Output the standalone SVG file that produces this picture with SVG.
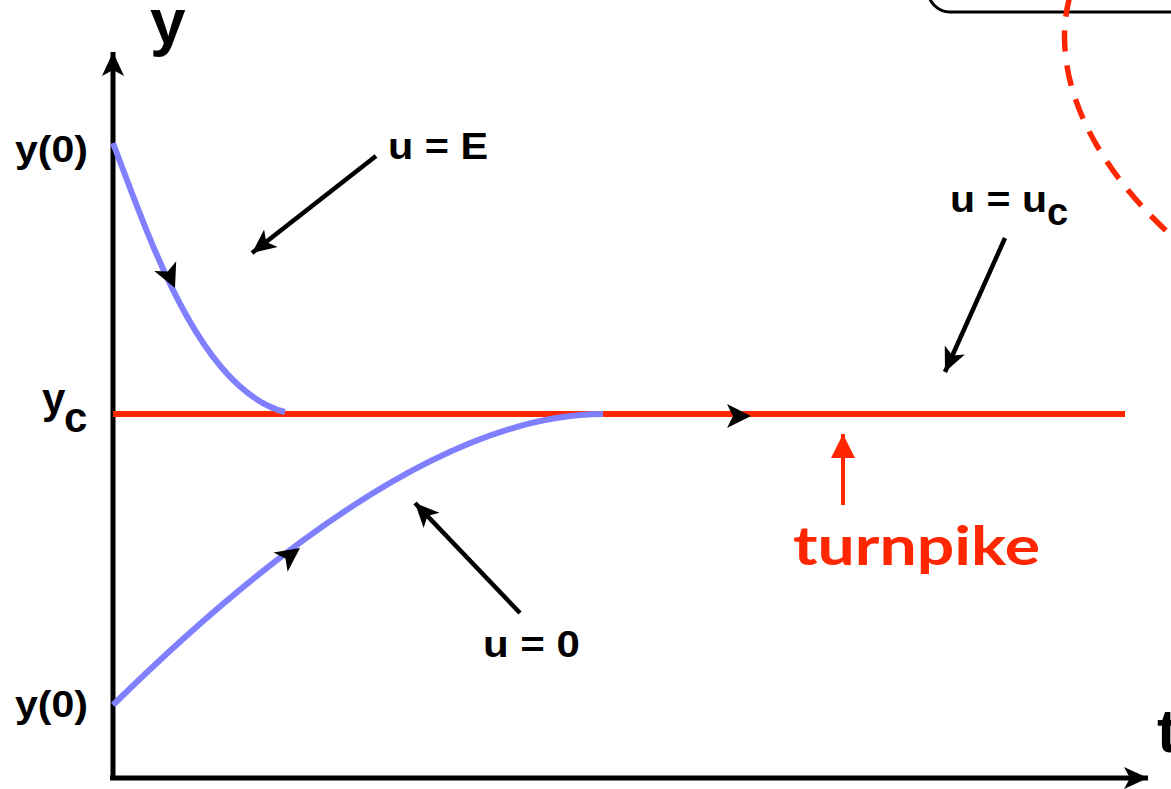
<svg xmlns="http://www.w3.org/2000/svg" width="1171" height="789" viewBox="0 0 1171 789">
<style>
.ax{stroke:#000;stroke-width:5;fill:none}
.lbl{stroke:#000;stroke-width:4.5;fill:none}
.blue{stroke:#8080ff;stroke-width:6;fill:none;stroke-linecap:butt}
.red{stroke:#ff2600;stroke-width:6;fill:none}
.t{font-family:"Liberation Sans",Arial,sans-serif;font-weight:bold;fill:#000}
.tp{font-family:"Comic Sans MS","Lato","Noto Sans",sans-serif;font-weight:bold;fill:#ff2600}
</style>
<defs>
<marker id="mk" markerUnits="userSpaceOnUse" markerWidth="26" markerHeight="24" refX="24" refY="12" orient="auto" viewBox="0 0 26 24">
<path d="M0,1 L24,12 L0,23 L6,12 Z" fill="#000"/>
</marker>
<marker id="mkr" markerUnits="userSpaceOnUse" markerWidth="26" markerHeight="26" refX="24" refY="12" orient="auto" viewBox="0 0 26 24">
<path d="M0,0 L24,12 L0,24 Z" fill="#ff2600"/>
</marker>
<path id="ah" d="M0,0 L-24,-12 L-18,0 L-24,12 Z" fill="#000"/>
</defs>
<rect x="0" y="0" width="1171" height="789" fill="#fff"/>

<g id="frame">
<rect x="928" y="-40" width="300" height="52" rx="22" ry="22" fill="none" stroke="#000" stroke-width="3"/>
<path d="M1070,-4 C1052,60 1076,150 1176,240" fill="none" stroke="#ff2600" stroke-width="5.5" stroke-dasharray="21,14"/>
</g>

<g id="axes">
<line class="ax" x1="113" y1="780" x2="113" y2="52" marker-end="url(#mk)"/>
<line class="ax" x1="110" y1="778" x2="1148" y2="778" marker-end="url(#mk)"/>
<text class="t" x="150" y="44" font-size="64">y</text>
<text class="t" x="1157" y="752" font-size="62">t</text>
<text class="t" x="15" y="162" font-size="36" textLength="73" lengthAdjust="spacingAndGlyphs">y(0)</text>
<text class="t" x="15" y="717" font-size="36" textLength="73" lengthAdjust="spacingAndGlyphs">y(0)</text>
<text class="t" x="42" y="413" font-size="42">y</text>
<text class="t" x="64" y="432" font-size="42">c</text>
</g>

<g id="turnpike-line">
<line class="red" x1="113" y1="414" x2="1125" y2="414"/>
<use href="#ah" transform="translate(751,416)"/>
</g>

<g id="curve-E">
<path class="blue" d="M113,143 C150,240 200,390 285,412"/>
<use href="#ah" transform="translate(175,288) rotate(66)"/>
</g>

<g id="curve-0">
<path class="blue" d="M113,705 C230,590 430,414 603,414"/>
<use href="#ah" transform="translate(300,548) rotate(-36)"/>
</g>

<g id="connectors">
<line class="lbl" x1="376" y1="156" x2="252" y2="253" marker-end="url(#mk)"/>
<line class="lbl" x1="520" y1="613" x2="415" y2="503" marker-end="url(#mk)"/>
<line class="lbl" x1="1005" y1="238" x2="945" y2="372" marker-end="url(#mk)"/>
<line x1="843" y1="505" x2="843" y2="434" stroke="#ff2600" stroke-width="4" marker-end="url(#mkr)"/>
</g>

<g id="label-E"><text class="t" x="388" y="159" font-size="36" textLength="100" lengthAdjust="spacingAndGlyphs">u = E</text></g>
<g id="label-0"><text class="t" x="483" y="657" font-size="36" textLength="97" lengthAdjust="spacingAndGlyphs">u = 0</text></g>
<g id="label-uc"><text class="t" x="950" y="212" font-size="36" textLength="97" lengthAdjust="spacingAndGlyphs">u = u</text><text class="t" x="1047" y="225" font-size="38">c</text></g>
<g id="label-turnpike"><text class="tp" x="793" y="565" font-size="54" textLength="247" lengthAdjust="spacingAndGlyphs">turnpike</text></g>
</svg>
